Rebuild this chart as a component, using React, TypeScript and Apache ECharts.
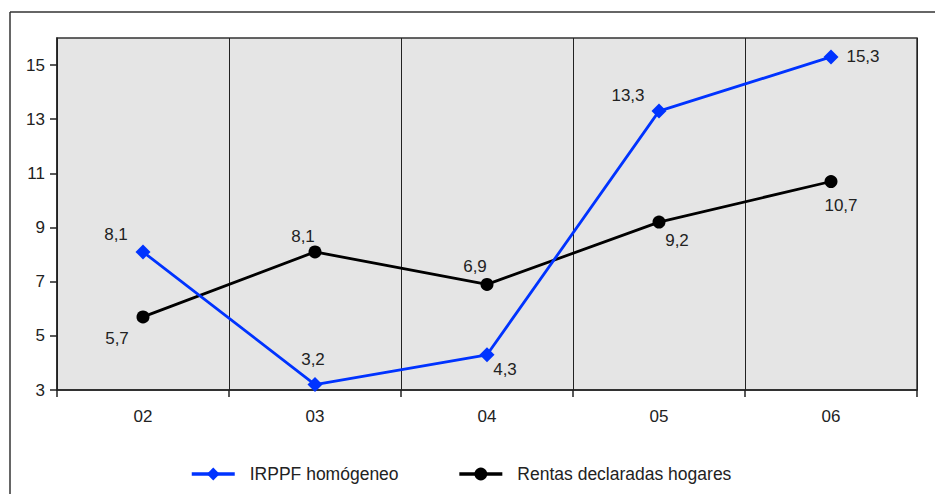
import React, { useEffect, useRef } from "react";
import * as echarts from "echarts";

const categories = ["02", "03", "04", "05", "06"];
const irppf = [8.1, 3.2, 4.3, 13.3, 15.3];
const rentas = [5.7, 8.1, 6.9, 9.2, 10.7];
const yTicks = [3, 5, 7, 9, 11, 13, 15];
const irppfOffsets = [[-27, -17], [-2, -25], [18, 15], [-31, -16], [32, 0]];
const rentasOffsets = [[-26, 22], [-12, -15], [-12, -18], [18, 18], [10, 24]];

const FONT = "'Liberation Sans', Arial, sans-serif";
const FS = 17;

export default function App() {
  const ref = useRef<HTMLDivElement>(null);
  useEffect(() => {
    document.body.style.margin = "0";
    const chart = echarts.init(ref.current!, null, { renderer: "svg" });
    const fmt = (p: any) => String(p.value).replace(".", ",");
    chart.setOption({
      animation: false,
      backgroundColor: "#ffffff",
      textStyle: { fontFamily: FONT },
      grid: {
        left: 57,
        top: 38,
        right: 18,
        bottom: 104,
        show: true,
        backgroundColor: "#e5e5e5",
        borderColor: "#333333",
        borderWidth: 1.5,
      },
      graphic: [
        {
          type: "line",
          shape: { x1: 10, y1: 12, x2: 935, y2: 12 },
          style: { stroke: "#333333", lineWidth: 1.5 },
        },
        {
          type: "line",
          shape: { x1: 10, y1: 12, x2: 10, y2: 494 },
          style: { stroke: "#333333", lineWidth: 1.5 },
        },
      ],
      legend: {
        bottom: 6,
        left: 185,
        itemGap: 59,
        itemWidth: 43,
        itemHeight: 16,
        lineStyle: { width: 3.5 },
        textStyle: { fontSize: 17.5, color: "#222", fontFamily: FONT, padding: [0, 0, 0, 10] },
        data: ["IRPPF homógeneo", "Rentas declaradas hogares"],
      },
      xAxis: {
        type: "category",
        data: categories,
        boundaryGap: true,
        axisLine: { show: true, lineStyle: { color: "#222", width: 1.5 } },
        axisTick: { show: true, length: 7, lineStyle: { color: "#222", width: 1.5 } },
        axisLabel: { fontSize: FS, color: "#222", margin: 18, fontFamily: FONT },
        splitLine: { show: true, lineStyle: { color: "#222", width: 1 } },
      },
      yAxis: {
        type: "value",
        min: 3,
        max: 16,
        axisLine: { show: true, lineStyle: { color: "#222", width: 1.5 } },
        axisTick: { show: true, length: 7, customValues: yTicks, lineStyle: { color: "#222", width: 1.5 } },
        axisLabel: { fontSize: FS, color: "#222", margin: 12, customValues: yTicks, fontFamily: FONT },
        splitLine: { show: false },
      },
      series: [
        {
          name: "IRPPF homógeneo",
          type: "line",
          data: irppf.map((v, i) => ({
            value: v,
            label: { offset: irppfOffsets[i] },
          })),
          symbol: "diamond",
          symbolSize: 15,
          lineStyle: { color: "#0033ff", width: 2.8 },
          itemStyle: { color: "#0033ff" },
          label: {
            show: true,
            position: "inside",
            formatter: fmt,
            fontSize: FS,
            color: "#222",
            fontFamily: FONT,
          },
          z: 3,
        },
        {
          name: "Rentas declaradas hogares",
          type: "line",
          data: rentas.map((v, i) => ({
            value: v,
            label: { offset: rentasOffsets[i] },
          })),
          symbol: "circle",
          symbolSize: 13,
          lineStyle: { color: "#000000", width: 2.8 },
          itemStyle: { color: "#000000" },
          label: {
            show: true,
            position: "inside",
            formatter: fmt,
            fontSize: FS,
            color: "#222",
            fontFamily: FONT,
          },
          z: 2,
        },
      ],
    });
    return () => chart.dispose();
  }, []);
  return <div ref={ref} style={{ width: 935, height: 494 }} />;
}
